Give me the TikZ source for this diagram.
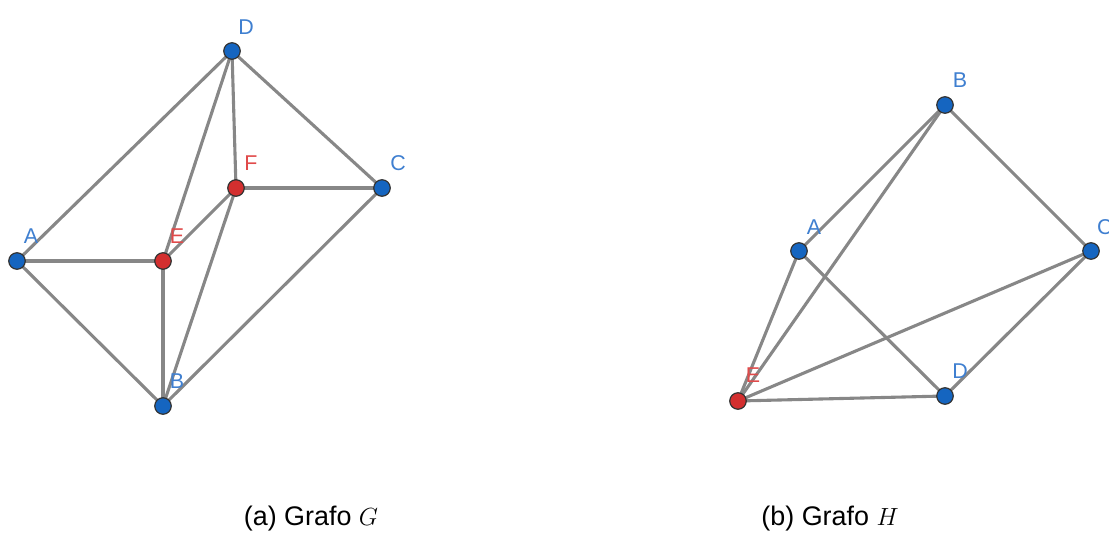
\documentclass[tikz,border=0pt]{standalone}
\usepackage{fontspec}
\setmainfont{Liberation Sans}
\begin{document}
\begin{tikzpicture}[x=1bp,y=-1bp,
  edge/.style={draw=edgegray,line width=3.1bp},
  bluept/.style={circle,draw=black!80,line width=1.2bp,fill=ptblue,inner sep=0pt,minimum size=16.5bp},
  redpt/.style={circle,draw=black!80,line width=1.2bp,fill=ptred,inner sep=0pt,minimum size=16.5bp},
  bluelbl/.style={text=lblblue,font=\fontsize{21.5}{25}\selectfont,inner sep=0pt},
  redlbl/.style={text=lblred,font=\fontsize{21.5}{25}\selectfont,inner sep=0pt},
  caption/.style={font=\fontsize{27}{32}\selectfont,inner sep=0pt}]
\definecolor{edgegray}{HTML}{878787}
\definecolor{ptblue}{HTML}{1565C0}
\definecolor{ptred}{HTML}{D32F2F}
\definecolor{lblblue}{HTML}{3F7FD0}
\definecolor{lblred}{HTML}{E04A4A}
\useasboundingbox (0,0) rectangle (1109,534);

% ---------- Graph G ----------
\coordinate (gD) at (232,51);
\coordinate (gF) at (236,188);
\coordinate (gC) at (382,188);
\coordinate (gA) at (17,261);
\coordinate (gE) at (163,261);
\coordinate (gB) at (163,406);
\foreach \u/\v in {gA/gD,gD/gE,gD/gF,gD/gC,gF/gC,gE/gF,gA/gE,gA/gB,gE/gB,gF/gB,gC/gB}
  \draw[edge] (\u) -- (\v);
\node[bluept] (nD) at (gD) {};
\node[redpt]  (nF) at (gF) {};
\node[bluept] (nC) at (gC) {};
\node[bluept] (nA) at (gA) {};
\node[redpt]  (nE) at (gE) {};
\node[bluept] (nB) at (gB) {};
\node[bluelbl] (lD) at (246,27) {D};
\node[redlbl]  (lF) at (251,163) {F};
\node[bluelbl] (lC) at (398,163) {C};
\node[bluelbl] (lA) at (31,236) {A};
\node[redlbl]  (lE) at (177,236) {E};
\node[bluelbl] (lB) at (177,381) {B};

% ---------- Graph H ----------
\coordinate (hB) at (945,105);
\coordinate (hA) at (799,251);
\coordinate (hC) at (1091,251);
\coordinate (hE) at (738,401);
\coordinate (hD) at (945,396);
\foreach \u/\v in {hB/hA,hB/hE,hB/hC,hA/hE,hA/hD,hE/hC,hE/hD,hC/hD}
  \draw[edge] (\u) -- (\v);
\node[bluept] (mB) at (hB) {};
\node[bluept] (mA) at (hA) {};
\node[bluept] (mC) at (hC) {};
\node[redpt]  (mE) at (hE) {};
\node[bluept] (mD) at (hD) {};
\node[bluelbl] (kB) at (960,80) {B};
\node[bluelbl] (kA) at (814,227) {A};
\node[bluelbl,anchor=west] (kC) at (1097,227) {C};
\node[redlbl]  (kE) at (753,375) {E};
\node[bluelbl] (kD) at (960,371) {D};

% ---------- captions ----------
\node[caption] (capG) at (311,519) {(a) Grafo $G$};
\node[caption] (capH) at (830,519) {(b) Grafo $H$};
\end{tikzpicture}
\end{document}
